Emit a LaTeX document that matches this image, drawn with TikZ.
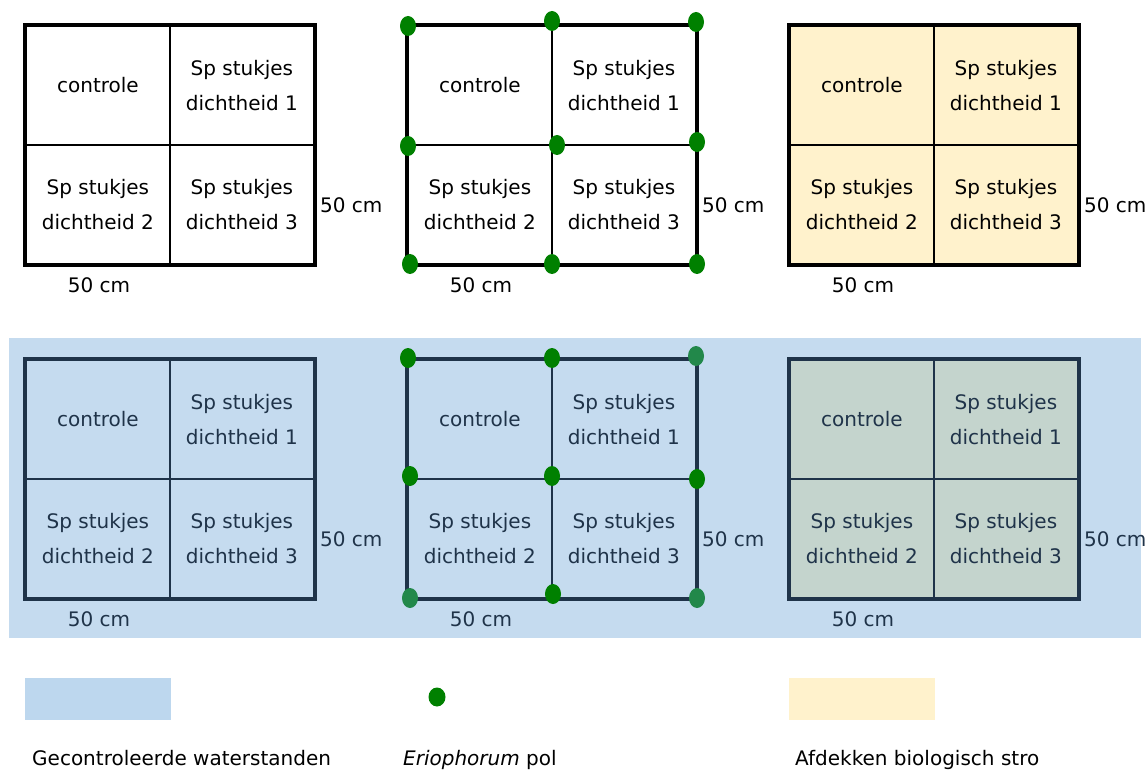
\documentclass[tikz,border=0pt]{standalone}
\usepackage{fontspec}
\setmainfont{DejaVu Sans}
\usetikzlibrary{shapes.geometric}
\definecolor{navy}{HTML}{1F3349}
\definecolor{bgblue}{HTML}{C5DBEF}
\definecolor{legblue}{HTML}{BDD7EE}
\definecolor{straw}{HTML}{FFF2CC}
\definecolor{mixgreen}{HTML}{C4D4CD}
\definecolor{pol}{HTML}{008000}
\definecolor{pol2}{HTML}{22884A}
\tikzset{
  cell/.style={draw=#1, line width=1.8pt, minimum width=144pt, minimum height=119pt,
    inner sep=0pt, anchor=north west, align=center,
    font=\fontsize{20}{35}\selectfont},
  frame/.style={draw=#1, line width=4.2pt},
  dim/.style={inner sep=0pt, font=\fontsize{20}{22}\selectfont},
  poldot/.style={ellipse, fill=#1, minimum width=16pt, minimum height=20pt, inner sep=0pt},
  poldot/.default=pol,
  leg/.style={inner sep=0pt, anchor=base west, font=\fontsize{20}{22}\selectfont}
}
\newcommand\plotgrid[6]{%
  \node[cell=#5, fill=#4, text=#6] (#1a) at (#2,#3) {controle};
  \node[cell=#5, fill=#4, text=#6] (#1b) at (#2+144,#3) {Sp stukjes\\dichtheid 1};
  \node[cell=#5, fill=#4, text=#6] (#1c) at (#2,#3+119) {Sp stukjes\\dichtheid 2};
  \node[cell=#5, fill=#4, text=#6] (#1d) at (#2+144,#3+119) {Sp stukjes\\dichtheid 3};
  \draw[frame=#5] (#1a.north west) rectangle (#1d.south east);
  \node[dim, text=#6, anchor=west] (#1r) at (#2+295,#3+180) {50 cm};
  \node[dim, text=#6] (#1s) at (#2+74,#3+260) {50 cm};
}
\begin{document}
\begin{tikzpicture}[x=1pt,y=-1pt]
\useasboundingbox (0,0) rectangle (1146,770);
% background for controlled water levels
\fill[bgblue] (9,338) rectangle (1141,638);
% top row
\plotgrid{A}{25}{25}{white}{black}{black}
\plotgrid{B}{407}{25}{white}{black}{black}
\plotgrid{C}{789}{25}{straw}{black}{black}
% bottom row
\plotgrid{D}{25}{359}{bgblue}{navy}{navy}
\plotgrid{E}{407}{359}{bgblue}{navy}{navy}
\plotgrid{F}{789}{359}{mixgreen}{navy}{navy}
% Eriophorum dots, top middle
\node[poldot] (p1) at (408,26) {};
\node[poldot] (p2) at (552,21) {};
\node[poldot] (p3) at (696,22) {};
\node[poldot] (p4) at (408,146) {};
\node[poldot] (p5) at (557,145) {};
\node[poldot] (p6) at (697,142) {};
\node[poldot] (p7) at (410,264) {};
\node[poldot] (p8) at (552,264) {};
\node[poldot] (p9) at (697,264) {};
% Eriophorum dots, bottom middle
\node[poldot] (q1) at (408,358) {};
\node[poldot] (q2) at (552,358) {};
\node[poldot=pol2] (q3) at (696,356) {};
\node[poldot] (q4) at (410,476) {};
\node[poldot] (q5) at (552,476) {};
\node[poldot] (q6) at (697,479) {};
\node[poldot=pol2] (q7) at (410,598) {};
\node[poldot] (q8) at (553,594) {};
\node[poldot=pol2] (q9) at (697,598) {};
% legend
\fill[legblue] (25,678) rectangle (171,720);
\node[poldot, minimum width=17pt, minimum height=19pt] (lp) at (437,697) {};
\fill[straw] (789,678) rectangle (935,720);
\node[leg] (l1) at (32,765) {Gecontroleerde waterstanden};
\node[leg] (l2) at (403,765) {\textit{Eriophorum} pol};
\node[leg] (l3) at (795,765) {Afdekken biologisch stro};
\end{tikzpicture}
\end{document}
